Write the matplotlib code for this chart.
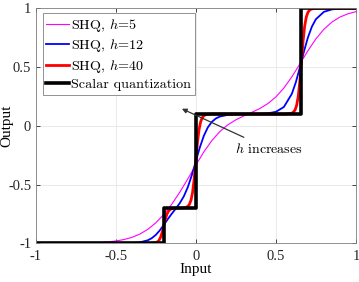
import numpy as np
import matplotlib
matplotlib.use("Agg")
import matplotlib.pyplot as plt

plt.rcParams['font.family'] = 'serif'
plt.rcParams['font.serif'] = ['Liberation Serif', 'DejaVu Serif']
plt.rcParams['mathtext.fontset'] = 'cm'
plt.rcParams['axes.unicode_minus'] = False

# soft quantizer curves
x_h5 = [-1.0, -0.9, -0.8, -0.75, -0.7, -0.65, -0.6, -0.55, -0.5, -0.45, -0.4, -0.35, -0.3, -0.25,
        -0.2, -0.15, -0.1, -0.05, 0.0, 0.05, 0.1, 0.15, 0.2, 0.25, 0.3, 0.35, 0.4, 0.45, 0.5,
        0.55, 0.6, 0.65, 0.7, 0.75, 0.8, 0.85, 0.9, 0.95, 1.0]
y_h5 = [-1.0, -0.9996, -0.999, -0.9983, -0.9973, -0.9955, -0.9926, -0.9879, -0.9804, -0.9684,
        -0.9498, -0.9219, -0.8813, -0.826, -0.7544, -0.667, -0.5652, -0.452, -0.3346, -0.2228,
        -0.126, -0.0492, 0.0082, 0.0507, 0.0841, 0.1142, 0.1471, 0.189, 0.2455, 0.3212, 0.4168,
        0.5263, 0.6381, 0.7394, 0.8217, 0.8827, 0.925, 0.953, 0.971]

x_h12 = [-1.0, -0.5, -0.4, -0.35, -0.3, -0.275, -0.25, -0.225, -0.2, -0.175, -0.15, -0.125, -0.1,
         -0.075, -0.05, -0.025, 0.0, 0.025, 0.05, 0.075, 0.1, 0.125, 0.15, 0.2, 0.25, 0.3, 0.4,
         0.45, 0.5, 0.55, 0.6, 0.625, 0.65, 0.675, 0.7, 0.725, 0.75, 0.8, 0.85, 0.9, 1.0]
y_h12 = [-1.0, -0.9998, -0.9975, -0.9918, -0.9744, -0.9563, -0.9285, -0.8901, -0.8434, -0.7945,
         -0.7481, -0.7047, -0.6584, -0.6007, -0.5228, -0.421, -0.3025, -0.1847, -0.0859, -0.0139,
         0.0332, 0.062, 0.0786, 0.0934, 0.098, 0.0996, 0.1017, 0.1058, 0.1189, 0.16, 0.2724,
         0.3714, 0.4963, 0.6301, 0.7508, 0.8438, 0.9069, 0.9698, 0.9907, 0.9972, 0.9997]

x_h40 = [-1.0, -0.3, -0.27, -0.25, -0.24, -0.23, -0.22, -0.21, -0.2, -0.19, -0.18, -0.17, -0.16,
         -0.15, -0.13, -0.1, -0.08, -0.06, -0.05, -0.04, -0.03, -0.02, -0.01, 0.0, 0.01, 0.02,
         0.03, 0.04, 0.05, 0.06, 0.08, 0.1, 0.56, 0.6, 0.61, 0.62, 0.63, 0.64, 0.65, 0.66, 0.67,
         0.68, 0.69, 0.7, 0.71, 0.72, 0.74, 0.8, 1.0]
y_h40 = [-1.0, -1.0, -0.9989, -0.9946, -0.9882, -0.975, -0.9496, -0.907, -0.85, -0.793, -0.7504,
         -0.725, -0.7118, -0.7054, -0.7011, -0.6998, -0.6987, -0.6934, -0.6856, -0.6686, -0.6334,
         -0.5656, -0.452, -0.3, -0.148, -0.0344, 0.0334, 0.0686, 0.0856, 0.0934, 0.0986, 0.0997,
         0.1003, 0.1074, 0.1162, 0.1353, 0.1749, 0.2512, 0.379, 0.55, 0.721, 0.8488, 0.9251,
         0.9647, 0.9838, 0.9926, 0.9985, 1.0, 1.0]

# hard (scalar) quantizer
x_sq = [-1.0, -0.2, -0.2, 0.0, 0.0, 0.66, 0.66, 1.0]
y_sq = [-1.0, -1.0, -0.7, -0.7, 0.1, 0.1, 1.0, 1.0]

ticks = [-1, -0.5, 0, 0.5, 1]
tick_labels = ['-1', '-0.5', '0', '0.5', '1']

fig = plt.figure(figsize=(3.59, 2.82), dpi=100)
ax = fig.add_axes([0.0994, 0.1372, 0.892, 0.8334])

ax.plot(x_h5, y_h5, color='#ff00ff', lw=0.8, label='SHQ, $h$=5')
ax.plot(x_h12, y_h12, color='#0000ff', lw=1.3, label='SHQ, $h$=12')
ax.plot(x_h40, y_h40, color='#ff0000', lw=2.0, label='SHQ, $h$=40')
ax.plot(x_sq, y_sq, color='black', lw=2.6, label='Scalar quantization')

ax.set_xlim(-1, 1)
ax.set_ylim(-1, 1)
ax.set_xticks(ticks)
ax.set_xticklabels(tick_labels)
ax.set_yticks(ticks)
ax.set_yticklabels(tick_labels)
ax.tick_params(direction='in', length=3, width=0.6, labelsize=10.5, colors='#262626',
               top=True, right=True)
ax.tick_params(axis='x', pad=5.0)
ax.tick_params(axis='y', pad=3.2)
ax.grid(True, color='#e6e6e6', lw=0.6)
for s in ax.spines.values():
    s.set_color('#808080')
    s.set_linewidth(0.6)

ax.set_xlabel('Input', fontsize=11, labelpad=-0.5)
ax.set_ylabel('Output', fontsize=11)
ax.yaxis.set_label_coords(-0.071, 0.5)

ax.annotate('$h$ increases', xy=(-0.087, 0.145), xytext=(0.245, -0.196),
            fontsize=10, va='center', ha='left', family='cmr10',
            arrowprops=dict(arrowstyle='-|>', color='#333333', lw=0.9,
                            mutation_scale=7, shrinkA=3, shrinkB=0))

leg = ax.legend(loc='upper left', bbox_to_anchor=(0.022, 0.979), borderaxespad=0,
                handlelength=1.6, handletextpad=0.15,
                borderpad=0.25, labelspacing=0.25, fancybox=False,
                framealpha=1, edgecolor='#808080',
                prop={'family': 'cmr10', 'size': 10.2})
leg.get_frame().set_linewidth(0.6)

fig.savefig('out.png', dpi=100)
